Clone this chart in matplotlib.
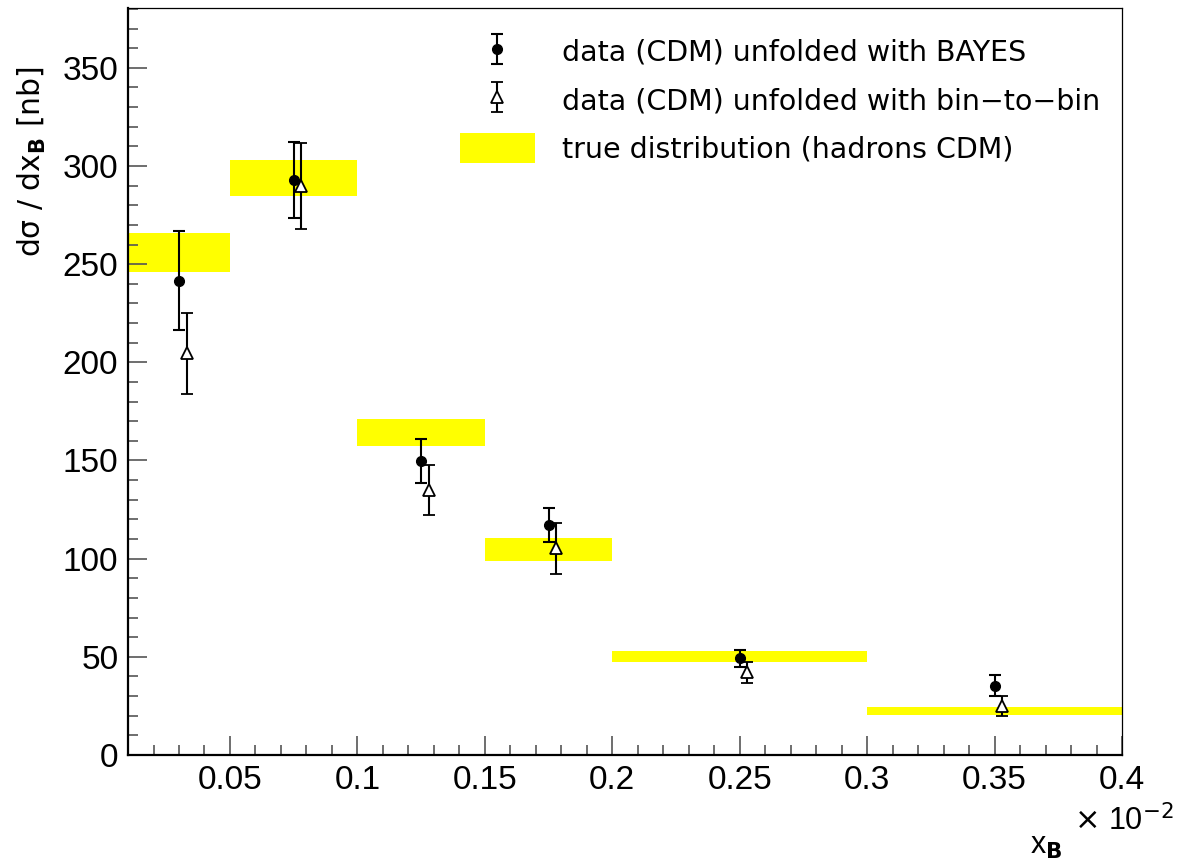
import numpy as np
import matplotlib.pyplot as plt
from matplotlib.patches import Patch
from matplotlib.legend_handler import HandlerErrorbar
from matplotlib.ticker import MultipleLocator

# true distribution bins (hadrons CDM): edges, centre value and half band
bin_lo = [0.01, 0.05, 0.10, 0.15, 0.20, 0.30]
bin_hi = [0.05, 0.10, 0.15, 0.20, 0.30, 0.40]
true_val = [256.0, 293.8, 164.3, 104.7, 50.3, 22.5]
true_err = [9.8, 9.3, 6.9, 5.7, 2.8, 2.1]

# unfolded data points
x_bayes = [0.030, 0.075, 0.125, 0.175, 0.250, 0.350]
y_bayes = [241.6, 292.9, 149.7, 117.2, 49.2, 35.3]
e_bayes = [25.2, 19.5, 11.3, 8.5, 4.3, 5.3]

x_b2b = [0.033, 0.078, 0.128, 0.178, 0.253, 0.353]
y_b2b = [204.5, 289.8, 135.0, 105.3, 42.1, 25.0]
e_b2b = [20.6, 22.0, 12.7, 13.0, 5.3, 5.1]

x_ticks = [0.05, 0.1, 0.15, 0.2, 0.25, 0.3, 0.35, 0.4]
x_ticklabels = ['0.05', '0.1', '0.15', '0.2', '0.25', '0.3', '0.35', '0.4']
y_ticks = [0, 50, 100, 150, 200, 250, 300, 350]
y_ticklabels = ['0', '50', '100', '150', '200', '250', '300', '350']

tick_font = 'Liberation Sans'
text_font = 'DejaVu Sans'

fig = plt.figure(figsize=(12, 8.65), dpi=100)
ax = fig.add_axes([0.1067, 0.1272, 0.8283, 0.8636])

lo = np.array(bin_lo); hi = np.array(bin_hi)
tv = np.array(true_val); te = np.array(true_err)
ax.bar(lo, 2 * te, width=hi - lo, bottom=tv - te, align='edge',
       color='#ffff00', edgecolor='none', linewidth=0, zorder=1)

bayes_style = dict(fmt='o', color='black', ms=7, elinewidth=1.5, capsize=4, capthick=1.5)
b2b_style = dict(fmt='^', color='black', mfc='white', mec='black', mew=1.3, ms=8,
                 elinewidth=1.5, capsize=4, capthick=1.5)

h_bayes = ax.errorbar(x_bayes, y_bayes, yerr=e_bayes, zorder=3, **bayes_style)
h_b2b = ax.errorbar(x_b2b, y_b2b, yerr=e_b2b, zorder=3, **b2b_style)
h_true = Patch(facecolor='#ffff00', edgecolor='none')

ax.set_xlim(0.01, 0.4)
ax.set_ylim(0, 380.5)

ax.xaxis.set_minor_locator(MultipleLocator(0.01))
ax.yaxis.set_minor_locator(MultipleLocator(10))
ax.set_xticks(x_ticks)
ax.set_xticklabels(x_ticklabels)
ax.set_yticks(y_ticks)
ax.set_yticklabels(y_ticklabels)

ax.tick_params(which='both', direction='in', top=False, right=False, color='#555555')
ax.tick_params(which='major', length=14, width=1.2, labelsize=24, pad=7)
ax.tick_params(which='minor', length=7, width=1.2)
for lab in ax.get_xticklabels() + ax.get_yticklabels():
    lab.set_fontfamily(tick_font)

ax.spines['left'].set_linewidth(1.6)
ax.spines['bottom'].set_linewidth(1.6)
ax.spines['top'].set_linewidth(0.9)
ax.spines['right'].set_linewidth(0.9)

fig.text(0.027, 0.813, 'd\u03c3 / dx$_{\\mathbf{B}}$ [nb]', rotation=90,
         ha='center', va='center', fontsize=21.5, family=text_font)
fig.text(0.858, 0.022, r'x$_{\mathbf{B}}$', ha='left', va='center',
         fontsize=22, family=tick_font)
fig.text(0.895, 0.051, r'$\times$ 10$^{-2}$', ha='left', va='center',
         fontsize=22, family=tick_font)

ax.legend([h_bayes, h_b2b, h_true],
          ['data (CDM) unfolded with BAYES',
           'data (CDM) unfolded with bin\u2212to\u2212bin',
           'true distribution (hadrons CDM)'],
          loc='upper left', bbox_to_anchor=(0.334, 0.962),
          frameon=False, prop={'family': text_font, 'size': 20.5},
          handlelength=2.63, handleheight=1.25, handletextpad=0.95,
          labelspacing=0.62, borderpad=0, borderaxespad=0,
          handler_map={type(h_bayes): HandlerErrorbar(xerr_size=0.53)})

fig.savefig('out.png', dpi=100)
